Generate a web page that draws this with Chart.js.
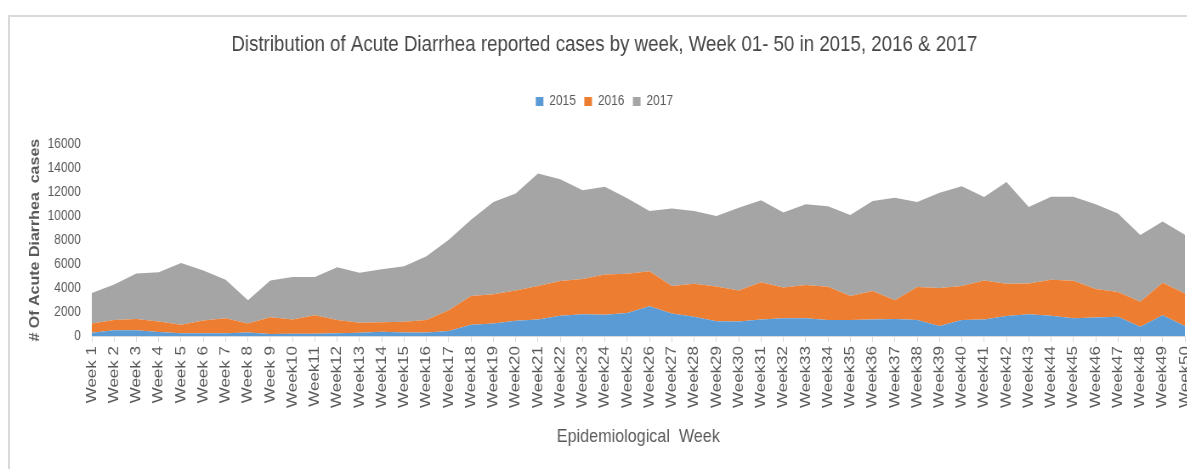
<!DOCTYPE html>
<html>
<head>
<meta charset="utf-8">
<script src="https://cdn.jsdelivr.net/npm/chart.js@4.4.1/dist/chart.umd.min.js"></script>
<style>
  html, body { margin: 0; padding: 0; background: #fff; overflow: hidden; width: 1187px; height: 469px; }
  #frame { position: absolute; left: 8px; top: 15px; width: 1400px; height: 500px;
           border-left: 2px solid #dadada; border-top: 2px solid #dadada; }
  #plot { position: absolute; left: 0; top: 0; transform: scaleX(0.85); transform-origin: 0 0; }
</style>
</head>
<body>
<div id="frame"></div>
<canvas id="plot" width="1420" height="469"></canvas>
<script>
// week labels as on the category axis
const weeks = ['Week 1', 'Week 2', 'Week 3', 'Week 4', 'Week 5', 'Week 6', 'Week 7', 'Week 8', 'Week 9', 'Week10',
    'Week11', 'Week12', 'Week13', 'Week14', 'Week15', 'Week16', 'Week17', 'Week18', 'Week19', 'Week20',
    'Week21', 'Week22', 'Week23', 'Week24', 'Week25', 'Week26', 'Week27', 'Week28', 'Week29', 'Week30',
    'Week31', 'Week32', 'Week33', 'Week34', 'Week35', 'Week36', 'Week37', 'Week38', 'Week39', 'Week40',
    'Week41', 'Week42', 'Week43', 'Week44', 'Week45', 'Week46', 'Week47', 'Week48', 'Week49', 'Week50'];

// reported cases per week (stacked)
const cases2015 = [280, 470, 470, 330, 220, 220, 220, 300, 170, 190,
    190, 220, 280, 360, 300, 300, 410, 940, 1050, 1270,
    1380, 1690, 1820, 1770, 1930, 2490, 1880, 1600, 1240, 1220,
    1380, 1490, 1490, 1330, 1330, 1380, 1410, 1330, 830, 1330,
    1380, 1660, 1820, 1690, 1490, 1550, 1600, 770, 1740, 830];
const cases2016 = [770, 860, 940, 890, 720, 1080, 1270, 750, 1400, 1190,
    1550, 1110, 820, 790, 900, 1030, 1740, 2400, 2430, 2540,
    2790, 2900, 2930, 3370, 3260, 2920, 2290, 2760, 2900, 2590,
    3100, 2570, 2760, 2790, 2010, 2380, 1570, 2760, 3170, 2840,
    3260, 2700, 2570, 3010, 3120, 2370, 2070, 2080, 2710, 2710];
const cases2017 = [2550, 2980, 3810, 4110, 5160, 4170, 3210, 1930, 3070, 3540,
    3180, 4420, 4180, 4430, 4630, 5330, 5890, 6360, 7720, 8090,
    9390, 8510, 7430, 7320, 6310, 5030, 6470, 6080, 5890, 6910,
    6850, 6260, 6750, 6710, 6770, 7510, 8570, 7100, 7960, 8340,
    6960, 8490, 6380, 6930, 7020, 7080, 6550, 5580, 5110, 4910];

const yTicks = [0, 2000, 4000, 6000, 8000, 10000, 12000, 14000, 16000];

const grey = '#595959';

function area(label, values, color, fill) {
    return {
        label: label,
        data: values,
        backgroundColor: color,
        borderColor: color,
        borderWidth: 0,
        pointRadius: 0,
        tension: 0,
        fill: fill
    };
}

// extra room under the legend, like the gap in the original
const legendGap = {
    id: 'legendGap',
    beforeInit: function (chart) {
        const fit = chart.legend.fit;
        chart.legend.fit = function () {
            fit.bind(chart.legend)();
            this.height += 26;
        };
    }
};

const ctx = document.getElementById('plot');

var chart = new Chart(ctx, {
    type: 'line',
    data: {
        labels: weeks,
        datasets: [
            area('2015', cases2015, '#5b9bd5', 'origin'),
            area('2016', cases2016, '#ed7d31', '-1'),
            area('2017', cases2017, '#a5a5a5', '-1')
        ]
    },
    plugins: [legendGap],
    options: {
        responsive: false,
        animation: false,
        layout: { padding: { left: 28, right: 26, top: 15, bottom: 17 } },
        plugins: {
            title: {
                display: true,
                text: 'Distribution of Acute Diarrhea reported cases by week, Week 01- 50 in 2015, 2016 & 2017',
                color: '#454545',
                font: { family: 'Liberation Sans', size: 22, weight: 'normal' },
                padding: { top: 17, bottom: 26 }
            },
            legend: {
                display: true,
                labels: {
                    color: grey,
                    font: { family: 'Liberation Sans', size: 14 },
                    boxWidth: 9,
                    boxHeight: 9,
                    padding: 10
                }
            },
            tooltip: { enabled: false }
        },
        scales: {
            x: {
                stacked: true,
                offset: false,
                grid: { display: true, drawOnChartArea: false, drawTicks: true, tickLength: 6, color: '#d9d9d9' },
                border: { display: true, color: '#d9d9d9' },
                ticks: {
                    autoSkip: false,
                    minRotation: 90,
                    maxRotation: 90,
                    padding: 4,
                    color: grey,
                    font: { family: 'Liberation Sans', size: 17 }
                },
                title: {
                    display: true,
                    text: 'Epidemiological  Week',
                    color: grey,
                    font: { family: 'Liberation Sans', size: 19 },
                    padding: { top: 0, bottom: 4 }
                },
                afterFit: function (scale) { scale.height = 116; }
            },
            y: {
                stacked: true,
                min: 0,
                max: 16000,
                afterBuildTicks: function (scale) {
                    scale.ticks = yTicks.map(function (v) { return { value: v }; });
                },
                grid: { display: false, drawTicks: false },
                border: { display: false },
                ticks: {
                    padding: 13,
                    color: grey,
                    font: { family: 'Liberation Sans', size: 14 },
                    callback: function (value) { return String(value); }
                },
                title: {
                    display: true,
                    text: '# Of Acute Diarrhea  cases',
                    color: grey,
                    font: { family: 'Liberation Sans', size: 16, weight: 'bold' },
                    padding: { top: 4, bottom: 4 }
                },
                afterFit: function (scale) { scale.width = 80; }
            }
        }
    }
});
</script>
</body>
</html>
